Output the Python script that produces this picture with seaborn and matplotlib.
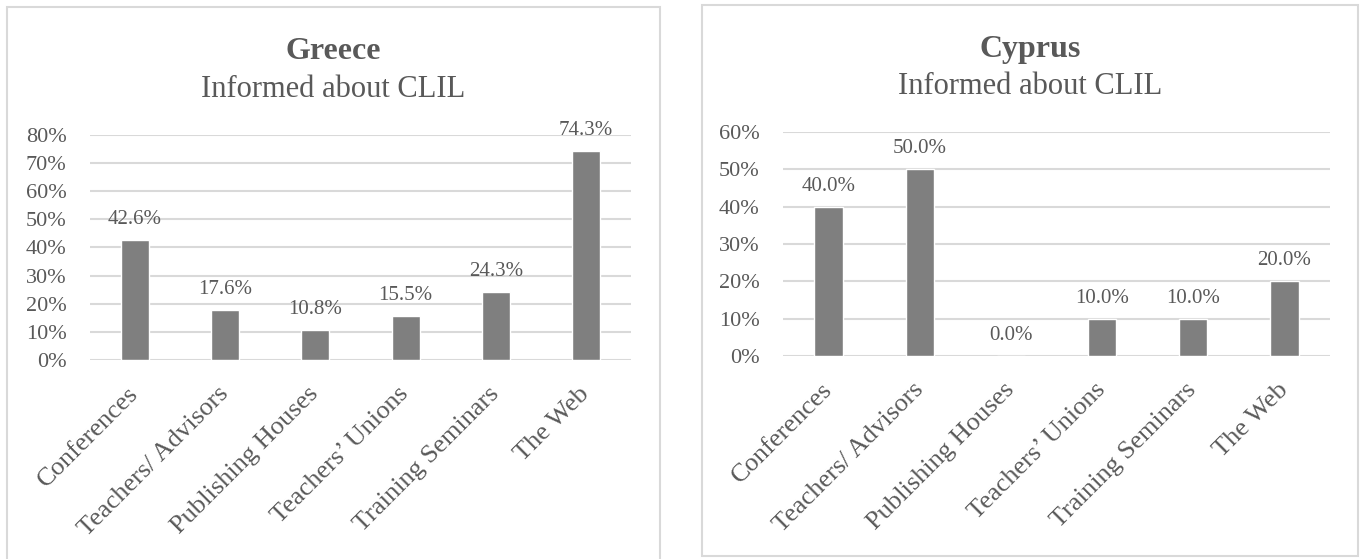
import seaborn as sns
import matplotlib.pyplot as plt
from matplotlib.patches import Rectangle
from matplotlib.ticker import PercentFormatter

# data
categories = ["Conferences", "Teachers/ Advisors", "Publishing Houses",
              "Teachers\u2019 Unions", "Training Seminars", "The Web"]
greece_values = [0.426, 0.176, 0.108, 0.155, 0.243, 0.743]
cyprus_values = [0.40, 0.50, 0.0, 0.10, 0.10, 0.20]

sns.set_style("white")
plt.rcParams["font.family"] = ["Liberation Serif", "DejaVu Serif"]

TEXT = "#595959"
BAR = "#7f7f7f"
GRID = "#d9d9d9"

fig = plt.figure(figsize=(13.63, 5.59), dpi=100)

# panel frames
fig.add_artist(Rectangle((0.00514, -0.01), 0.4791, 0.9975, transform=fig.transFigure,
                         fill=False, edgecolor=GRID, lw=1.5))
fig.add_artist(Rectangle((0.5150, 0.00537), 0.4813, 0.9857, transform=fig.transFigure,
                         fill=False, edgecolor=GRID, lw=1.5))

panels = [
    ("Greece", greece_values, [0.06603, 0.3560, 0.3969, 0.4025], 0.8, 0.2447, 0.908, 0.840),
    ("Cyprus", cyprus_values, [0.5745, 0.3631, 0.4013, 0.4007], 0.6, 0.7557, 0.912, 0.846),
]

for name, values, rect, ymax, tx, ty1, ty2 in panels:
    ax = fig.add_axes(rect)
    sns.barplot(x=categories, y=values, ax=ax, color=BAR, saturation=1, width=0.31)
    ax.set_ylim(0, ymax)
    ax.set_yticks([i / 10 for i in range(int(round(ymax * 10)) + 1)])
    ax.yaxis.set_major_formatter(PercentFormatter(1.0, decimals=0))
    ax.grid(axis="y", color=GRID, lw=1.5)
    ax.set_axisbelow(True)
    for s in ax.spines.values():
        s.set_visible(False)
    ax.tick_params(axis="y", length=0, pad=17, labelsize=16, labelcolor=TEXT)
    ax.tick_params(axis="x", length=0, pad=22, labelsize=19, labelcolor=TEXT)
    plt.setp(ax.get_xticklabels(), rotation=45, ha="right", va="center",
             rotation_mode="anchor")
    ax.set_xlabel("")
    ax.set_ylabel("")
    ax.bar_label(ax.containers[0], labels=[f"{v * 100:.1f}%" for v in values],
                 padding=8, fontsize=15, color=TEXT)
    fig.text(tx, ty1, name, ha="center", va="center", fontsize=23,
             fontweight="bold", color=TEXT)
    fig.text(tx, ty2, "Informed about CLIL", ha="center", va="center",
             fontsize=22, color=TEXT)

fig.savefig("out.png", dpi=100)
